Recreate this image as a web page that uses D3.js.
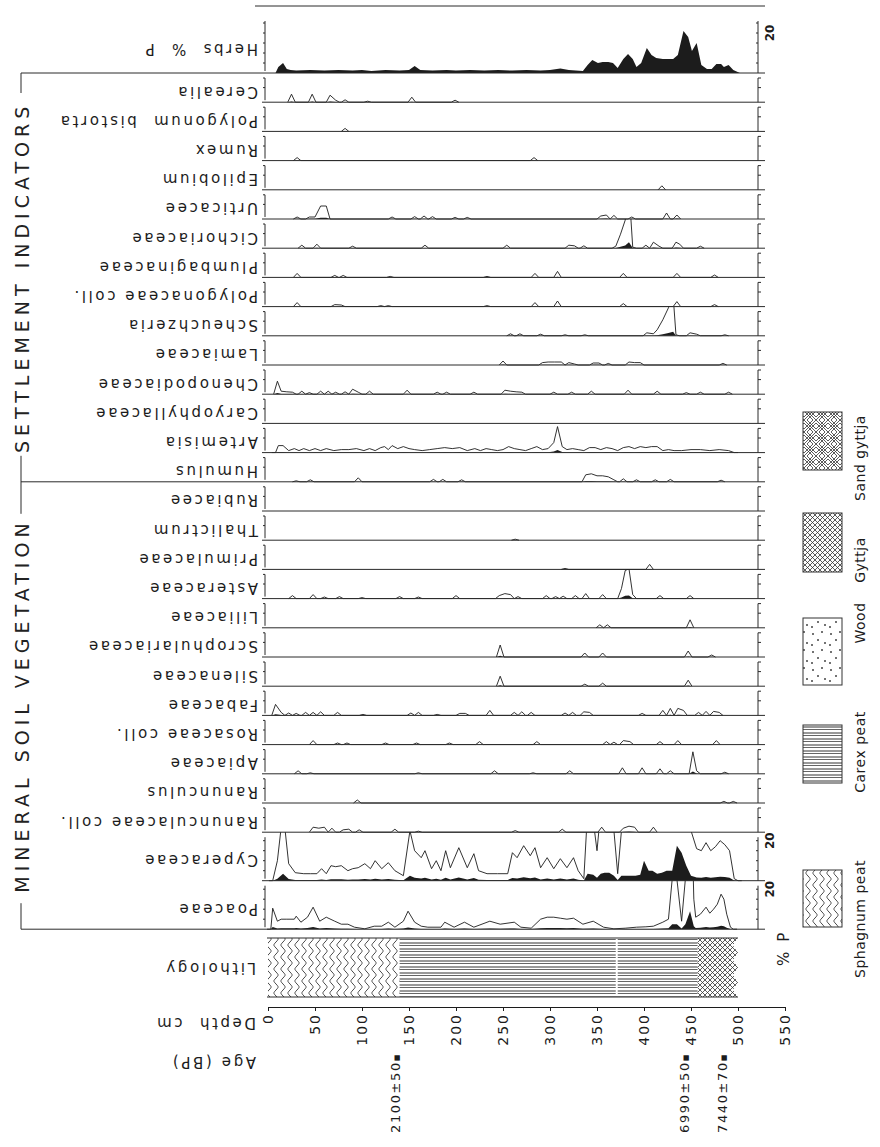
<!DOCTYPE html>
<html lang="en">
<head>
<meta charset="UTF-8">
<title>Pollen diagram — herbs</title>
<script src="https://cdnjs.cloudflare.com/ajax/libs/d3/7.8.5/d3.min.js"></script>
<style>
html,body{margin:0;padding:0;background:#fff}
svg{display:block;font-family:"DejaVu Sans",sans-serif}
.taxon{font-size:15px;letter-spacing:2.6px;white-space:pre;fill:#1c1c1c}
.group{font-size:19px;letter-spacing:5px;fill:#222}
.tick-label{font-size:14px;letter-spacing:2px;fill:#1c1c1c}
.age-label{font-size:13px;letter-spacing:1.6px;fill:#1c1c1c}
.legend-label{font-size:14px;letter-spacing:0.5px;fill:#1c1c1c}
.scale-label{font-size:12px;font-weight:bold;fill:#1c1c1c}
.rule{stroke:#2a2a2a;stroke-width:1;fill:none}
</style>
</head>
<body>
<svg id="chart" width="880" height="1147"></svg>
<script>
// --- data: [depth cm, % of pollen sum] ---
const herbs = [[8,0],[11,3],[16,5],[20,2],[24,1.5],[30,1.2],[45,1.5],[60,1.2],[75,1.5],[90,1.2],[100,1.5],[110,1],[125,1.5],[140,1.2],[150,1.5],[156,3.5],[162,1.5],[175,1.2],[190,1.5],[200,1.2],[215,1.5],[230,1.2],[245,1.5],[260,1.2],[275,1.5],[290,1.2],[300,1.5],[311,2.2],[320,1.5],[335,1],[340,4],[345,6.5],[351,5],[356,5.5],[362,5.5],[367,5],[372,2.5],[378,7],[383,9.5],[388,7],[392,3],[397,5],[403,12.5],[408,9],[413,7.5],[420,7],[426,7],[431,7],[436,9],[442,21],[447,18],[451,11],[456,15],[461,4],[467,2],[472,2],[477,4.5],[482,4.5],[485,3],[490,4],[495,1.5],[502,0]];
const cerealia = [[25,0.4],[47,0.4],[66,0.35],[72,0.1],[82,0.12],[106,0.05],[153,0.25],[199,0.1]];
const polygonumBistorta = [[82,0.15]];
const rumex = [[31,0.15],[283,0.15]];
const epilobium = [[419,0.2]];
const urticaceae = [[31,0.1],[44,0.1],[50,0.1],[56,0.65],[62,0.65],[132,0.1],[156,0.12],[166,0.15],[175,0.12],[199,0.08],[212,0.08],[354,0.15],[360,0.2],[368,0.18],[387,0.1],[424,0.3],[435,0.2]];
const cichoriaceae = [[36,0.15],[52,0.2],[90,0.1],[167,0.15],[254,0.15],[320,0.15],[326,0.12],[336,0.12],[370,0.1],[375,0.7],[380,1.4],[384,3],[388,0.05],[402,0.15],[410,0.3],[416,0.1],[434,0.3],[438,0.2],[460,0.1]];
const plumbaginaceae = [[31,0.2],[71,0.1],[80,0.1],[130,0.05],[233,0.05],[284,0.2],[308,0.3],[378,0.2],[435,0.2],[475,0.12]];
const polygonaceae = [[31,0.2],[71,0.1],[78,0.08],[120,0.05],[128,0.05],[233,0.05],[284,0.2],[308,0.28],[378,0.15],[435,0.25],[475,0.1]];
const scheuchzeria = [[258,0.1],[268,0.1],[290,0.08],[316,0.05],[337,0.05],[403,0.15],[410,0.1],[414,0.3],[420,0.8],[426,1.4],[431,2],[434,0.05],[449,0.15],[456,0.08],[486,0.05]];
const lamiaceae = [[250,0.2],[292,0.12],[298,0.15],[305,0.15],[312,0.15],[320,0.12],[326,0.05],[346,0.1],[352,0.1],[362,0.08],[384,0.15],[390,0.12],[396,0.12],[484,0.08]];
const chenopodiaceae = [[10,0.65],[14,0.15],[20,0.12],[26,0.1],[36,0.15],[44,0.08],[56,0.15],[64,0.15],[72,0.1],[82,0.12],[90,0.25],[96,0.1],[108,0.15],[148,0.2],[180,0.1],[190,0.1],[219,0.1],[252,0.2],[258,0.15],[264,0.12],[270,0.1],[304,0.1],[323,0.1],[344,0.15],[383,0.2],[414,0.15],[445,0.08],[460,0.1],[490,0.1]];
const caryophyllaceae = [];
const artemisia = [[8,0],[11,0.35],[16,0.35],[22,0.1],[28,0.2],[33,0.1],[38,0.2],[44,0.1],[50,0.2],[56,0.1],[62,0.2],[70,0.1],[78,0.15],[86,0.15],[94,0.2],[102,0.1],[108,0.2],[114,0.1],[120,0.25],[124,0.3],[128,0.15],[132,0.35],[138,0.2],[144,0.3],[150,0.2],[156,0.15],[164,0.1],[172,0.15],[180,0.2],[188,0.25],[196,0.2],[204,0.25],[212,0.1],[220,0.2],[226,0.1],[232,0.2],[238,0.15],[244,0.1],[250,0.15],[256,0.3],[262,0.2],[268,0.15],[274,0.1],[280,0.2],[286,0.3],[292,0.15],[298,0.2],[304,0.5],[308,1.3],[313,0.3],[318,0.15],[324,0.2],[330,0.15],[336,0.1],[342,0.25],[348,0.25],[354,0.15],[360,0.25],[366,0.2],[372,0.1],[378,0.25],[384,0.3],[390,0.2],[396,0.3],[402,0.25],[408,0.3],[414,0.3],[420,0.1],[426,0.15],[432,0.1],[440,0.1],[450,0.15],[460,0.15],[470,0.1],[480,0.15],[490,0.1],[496,0]];
const humulus = [[30,0.05],[45,0.1],[96,0.2],[176,0.12],[186,0.12],[206,0.1],[338,0.35],[344,0.4],[350,0.3],[356,0.3],[362,0.25],[368,0.1],[378,0.15],[392,0.1],[412,0.1],[428,0.12],[482,0.08]];
const rubiaceae = [];
const thalictrum = [[263,0.05]];
const primulaceae = [[316,0.05],[406,0.25]];
const asteraceae = [[26,0.15],[48,0.2],[60,0.08],[76,0.1],[100,0.05],[140,0.1],[160,0.08],[200,0.15],[246,0.15],[252,0.25],[258,0.2],[266,0.1],[296,0.15],[306,0.1],[314,0.12],[327,0.15],[338,0.25],[356,0.2],[376,0.5],[380,1.4],[384,1.5],[388,0.2],[417,0.15],[449,0.15]];
const liliaceae = [[353,0.15],[361,0.15],[449,0.4]];
const scrophulariaceae = [[247,0.6],[337,0.2],[356,0.2],[447,0.3],[472,0.1]];
const silenaceae = [[247,0.5],[337,0.1],[356,0.15],[447,0.3]];
const fabaceae = [[8,0.55],[14,0.15],[22,0.12],[30,0.1],[40,0.15],[48,0.15],[56,0.18],[74,0.15],[101,0.05],[152,0.12],[160,0.15],[180,0.05],[204,0.1],[210,0.1],[236,0.25],[262,0.15],[270,0.18],[280,0.15],[316,0.12],[324,0.15],[336,0.18],[342,0.15],[398,0.1],[420,0.25],[428,0.35],[436,0.35],[442,0.25],[458,0.15],[466,0.2],[474,0.2],[480,0.15]];
const rosaceae = [[48,0.2],[74,0.08],[84,0.08],[125,0.08],[158,0.08],[193,0.08],[225,0.15],[286,0.15],[360,0.15],[368,0.12],[378,0.2],[385,0.15],[417,0.15],[436,0.2],[477,0.2]];
const apiaceae = [[32,0.15],[45,0.05],[160,0.05],[241,0.15],[282,0.05],[321,0.15],[377,0.3],[398,0.3],[417,0.25],[428,0.15],[452,1.1],[456,0.15],[486,0.08]];
const ranunculus = [[95,0.15],[485,0.08],[495,0.08]];
const ranunculaceae = [[48,0.25],[54,0.2],[60,0.25],[68,0.2],[80,0.12],[86,0.15],[97,0.12],[135,0.15],[160,0.05],[263,0.08],[313,0.15],[355,0.25],[378,0.2],[384,0.3],[390,0.25],[410,0.25]];
const cyperaceae = [[5,0],[10,1.0],[16,3.5],[22,0.85],[29,0.4],[38,0.35],[45,0.35],[52,0.35],[57,0.6],[62,0.35],[67,0.75],[72,0.7],[78,0.75],[85,0.5],[90,0.6],[96,0.65],[103,0.85],[109,0.6],[114,1.0],[121,0.6],[128,0.9],[135,0.5],[144,0.25],[151,2.5],[156,1.5],[163,1.15],[167,1.5],[174,0.6],[179,1.0],[184,0.5],[189,1.5],[194,0.65],[203,1.65],[212,0.65],[219,1.35],[224,0.5],[233,0.35],[244,0.35],[255,0.35],[260,1.4],[265,1.15],[272,1.75],[279,1.25],[284,1.65],[290,0.65],[297,1.15],[304,0.6],[311,1.1],[318,0.65],[325,1.15],[330,0.5],[336,0.1],[340,3.5],[346,3],[350,1.5],[354,3.5],[358,4],[363,4],[368,2.5],[372,0.35],[376,2.5],[381,2.5],[386,2.5],[391,2.5],[396,3],[400,10],[405,5],[409,5],[414,3.5],[419,4],[424,5],[430,5],[435,17.5],[440,14],[445,7.5],[450,2.5],[456,1.6],[461,1.5],[466,1.9],[471,1.5],[476,1.7],[481,2],[486,1.8],[491,1.5],[496,0.1],[500,0]];
const poaceae = [[3,0],[5,1.05],[10,0.4],[14,0.5],[20,0.5],[28,0.5],[30,0.65],[35,0.35],[42,0.6],[48,1.1],[55,0.4],[62,0.6],[71,0.4],[78,0.25],[85,0.25],[92,0.1],[103,0.02],[113,0.15],[121,0.15],[128,0.35],[135,0.1],[144,0.4],[149,0.9],[156,0.35],[163,0.15],[170,0.1],[184,0.1],[188,0.35],[198,0.1],[209,0.35],[219,0.1],[236,0.4],[247,0.25],[262,0.35],[269,0.1],[280,0.05],[290,0.5],[297,0.6],[304,0.6],[311,0.55],[318,0.5],[325,0.55],[335,0.25],[346,0.4],[357,0.1],[368,0.02],[380,0.05],[392,0.1],[402,0.12],[410,0.15],[420,0.35],[426,0.5],[430,2.5],[435,2.5],[440,0.4],[444,2.5],[449,9],[453,1.5],[455,0.6],[460,0.75],[466,1.1],[470,0.8],[474,1.0],[478,1.25],[482,1.75],[485,1.5],[488,0.75],[492,0.1],[495,0]];

const lithology = [
  {from: 0, to: 140, type: 'sphagnum'},
  {from: 140, to: 457, type: 'carex'},
  {from: 457, to: 500, type: 'gyttja'}
];
const lithoBreaks = [371];
const depthTicks = [0, 50, 100, 150, 200, 250, 300, 350, 400, 450, 500, 550];
const ages = [{depth: 135, label: '2100±50'}, {depth: 443, label: '6990±50'}, {depth: 483, label: '7440±70'}];
const legendItems = [
  {type: 'sphagnum', label: 'Sphagnum peat'},
  {type: 'carex', label: 'Carex peat'},
  {type: 'wood', label: 'Wood'},
  {type: 'gyttja', label: 'Gyttja'},
  {type: 'sand', label: 'Sand gyttja'}
];

const taxa = [
  {name: 'Herbs  %  P', data: herbs, kind: 'sum'},
  {name: 'Cerealia', data: cerealia},
  {name: 'Polygonum  bistorta', data: polygonumBistorta},
  {name: 'Rumex', data: rumex},
  {name: 'Epilobium', data: epilobium},
  {name: 'Urticacee', data: urticaceae},
  {name: 'Cichoriaceae', data: cichoriaceae},
  {name: 'Plumbaginaceae', data: plumbaginaceae},
  {name: 'Polygonaceae coll.', data: polygonaceae},
  {name: 'Scheuchzeria', data: scheuchzeria},
  {name: 'Lamiaceae', data: lamiaceae},
  {name: 'Chenopodiaceae', data: chenopodiaceae},
  {name: 'Caryophyllaceae', data: caryophyllaceae},
  {name: 'Artemisia', data: artemisia, kind: 'curve'},
  {name: 'Humulus', data: humulus},
  {name: 'Rubiacee', data: rubiaceae},
  {name: 'Thalictrum', data: thalictrum},
  {name: 'Primulaceae', data: primulaceae},
  {name: 'Asteraceae', data: asteraceae},
  {name: 'Liliaceae', data: liliaceae},
  {name: 'Scrophulariaceae', data: scrophulariaceae},
  {name: 'Silenaceae', data: silenaceae},
  {name: 'Fabaceae', data: fabaceae},
  {name: 'Rosaceae coll.', data: rosaceae},
  {name: 'Apiaceae', data: apiaceae},
  {name: 'Ranunculus', data: ranunculus},
  {name: 'Ranunculaceae coll.', data: ranunculaceae},
  {name: 'Cyperaceae', data: cyperaceae, kind: 'curve', tall: true},
  {name: 'Poaceae', data: poaceae, kind: 'curve', tall: true}
];

// --- layout ---
const svg = d3.select('#chart');
const ink = '#1c1c1c';
const depth = d3.scaleLinear().domain([0, 550]).range([268, 785]);
const X0 = 262, X1 = 765, AXL = 265, AXR = 758;
const PX_PER_PCT = 2, EXAG = 10, STEP = 4;

let base = 73;
taxa.forEach((t, i) => {
  if (i === 0) { t.h = 57; t.base = base; return; }
  t.h = t.tall ? 48.5 : 29.2;
  base += t.h;
  t.base = base;
});

// patterns
const defs = svg.append('defs');
function pattern(id, w, h) {
  return defs.append('pattern').attr('id', id).attr('patternUnits', 'userSpaceOnUse')
    .attr('width', w).attr('height', h);
}
pattern('pat-sphagnum', 7, 12).append('path')
  .attr('d', 'M3,0 C5.8,3 5.8,3 3,6 C0.2,9 0.2,9 3,12')
  .attr('fill', 'none').attr('stroke', '#333').attr('stroke-width', 0.9);
const pc = pattern('pat-carex', 10, 6);
pc.append('line').attr('x1', 0).attr('x2', 10).attr('y1', 1).attr('y2', 1).attr('stroke', '#333').attr('stroke-width', 1);
pc.append('line').attr('x1', 0).attr('x2', 10).attr('y1', 3.5).attr('y2', 3.5).attr('stroke', '#555').attr('stroke-width', 0.9);
const pg = pattern('pat-gyttja', 5, 5);
pg.append('path').attr('d', 'M0,0 L5,5 M5,0 L0,5').attr('stroke', '#333').attr('stroke-width', 0.8);
const ps = pattern('pat-sand', 12, 12);
ps.append('path').attr('d', 'M0,0 L12,12 M12,0 L0,12 M-1.5,1.5 L10.5,13.5 M1.5,-1.5 L13.5,10.5 M13.5,1.5 L1.5,13.5 M10.5,-1.5 L-1.5,10.5')
  .attr('stroke', '#333').attr('stroke-width', 0.8);
const pw = pattern('pat-wood', 18, 18);
[[3, 4], [12, 2], [8, 10], [15, 13], [2, 15]].forEach(([cx, cy]) =>
  pw.append('circle').attr('cx', cx).attr('cy', cy).attr('r', 1).attr('fill', '#444'));

// top rule
svg.append('line').attr('class', 'rule').attr('x1', 255).attr('x2', X1).attr('y1', 6).attr('y2', 6);

// --- strips ---
function withZeros(pts, continuous) {
  const out = [];
  pts.forEach((p, i) => {
    const prev = pts[i - 1];
    if (!prev) out.push([p[0] - STEP, 0]);
    else if (!continuous && p[0] - prev[0] > 7) {
      out.push([prev[0] + STEP, 0]);
      out.push([p[0] - STEP, 0]);
    }
    out.push(p);
  });
  if (pts.length) out.push([pts[pts.length - 1][0] + STEP, 0]);
  return out;
}

taxa.forEach((t, i) => {
  const g = svg.append('g');
  const y = d3.scaleLinear().domain([0, t.h / PX_PER_PCT]).range([t.base, t.base - t.h]);
  const clipId = 'clip' + i;
  defs.append('clipPath').attr('id', clipId).append('rect')
    .attr('x', X0).attr('y', t.base - t.h).attr('width', X1 - X0).attr('height', t.h + 1);

  const pts = withZeros(t.data, t.kind === 'curve' || t.kind === 'sum');
  const plot = g.append('g').attr('clip-path', `url(#${clipId})`);
  if (pts.length) {
    plot.append('path').datum(pts)
      .attr('d', d3.area().x(d => depth(d[0])).y0(t.base).y1(d => y(d[1])))
      .attr('fill', ink);
    if (t.kind !== 'sum') {
      plot.append('path').datum(pts)
        .attr('d', d3.line().x(d => depth(d[0])).y(d => y(d[1] * EXAG)))
        .attr('fill', 'none').attr('stroke', ink).attr('stroke-width', 0.9);
    }
  }

  // baseline
  g.append('line').attr('class', 'rule').attr('stroke-width', 1.2)
    .attr('x1', X0).attr('x2', X1).attr('y1', t.base).attr('y2', t.base);

  // scale bars left and right
  const top = t.base - t.h + 5;
  g.append('line').attr('class', 'rule').attr('stroke-width', 0.8)
    .attr('x1', AXL).attr('x2', AXL).attr('y1', t.base - 2).attr('y2', top);
  g.append('line').attr('class', 'rule').attr('stroke-width', 0.8)
    .attr('x1', AXR).attr('x2', AXR).attr('y1', t.base).attr('y2', top);
  const tickVals = t.h > 40 ? d3.range(5, t.h / PX_PER_PCT - 2, 5) : [t.h / PX_PER_PCT / 2, (t.h - 5) / PX_PER_PCT];
  tickVals.forEach(v => {
    g.append('line').attr('class', 'rule').attr('stroke-width', 0.8)
      .attr('x1', AXL - 2).attr('x2', AXL).attr('y1', y(v)).attr('y2', y(v));
    g.append('line').attr('class', 'rule').attr('stroke-width', 0.8)
      .attr('x1', AXR).attr('x2', AXR + (t.h > 40 ? -2 : 3)).attr('y1', y(v)).attr('y2', y(v));
  });
  if (t.h > 40) {
    g.append('text').attr('class', 'scale-label')
      .attr('transform', `translate(${AXR + 16},${y(20)}) rotate(-90)`)
      .attr('text-anchor', 'middle').text('20');
  }

  // upside-down taxon label
  g.append('text').attr('class', 'taxon')
    .attr('transform', `translate(258,${t.base - t.h / 2 - 1}) rotate(180)`)
    .text(t.name);
});

// --- group brackets ---
const settleTop = taxa[0].base;
const settleBottom = taxa.find(t => t.name === 'Humulus').base;
const mineralBottom = taxa[taxa.length - 1].base;
const br = svg.append('g');
[settleTop, settleBottom, mineralBottom].forEach(yv =>
  br.append('line').attr('class', 'rule').attr('x1', 21).attr('x2', X0).attr('y1', yv).attr('y2', yv));
br.append('line').attr('class', 'rule').attr('x1', 21).attr('x2', 21).attr('y1', settleTop).attr('y2', settleTop + 20);
br.append('line').attr('class', 'rule').attr('x1', 21).attr('x2', 21).attr('y1', settleBottom - 26).attr('y2', settleBottom + 32);
br.append('line').attr('class', 'rule').attr('x1', 21).attr('x2', 21).attr('y1', mineralBottom - 26).attr('y2', mineralBottom);
br.append('text').attr('class', 'group').attr('text-anchor', 'middle')
  .attr('transform', `translate(29,${(settleTop + settleBottom) / 2}) rotate(-90)`)
  .text('SETTLEMENT INDICATORS');
br.append('text').attr('class', 'group').attr('text-anchor', 'middle')
  .attr('transform', `translate(29,${(settleBottom + mineralBottom) / 2}) rotate(-90)`)
  .text('MINERAL SOIL VEGETATION');

// --- lithology column ---
const LT = 938, LB = 997;
const lg = svg.append('g');
lithology.forEach((l, i) => {
  const x0 = depth(l.from), x1 = depth(l.to);
  let pts = [[x0, LT], [x1, LT]];
  if (i === lithology.length - 1) {
    const teeth = 4, step = (LB - LT) / (teeth * 2);
    d3.range(1, teeth * 2 + 1).forEach(k => pts.push([k % 2 ? x1 - 5 : x1, LT + k * step]));
  } else {
    pts.push([x1, LB]);
  }
  pts.push([x0, LB]);
  lg.append('polygon').attr('points', pts.map(p => p.join(',')).join(' '))
    .attr('fill', `url(#pat-${l.type})`).attr('stroke', 'none');
});
lithoBreaks.forEach(d => lg.append('line').attr('x1', depth(d)).attr('x2', depth(d))
  .attr('y1', LT + 1).attr('y2', LB - 1).attr('stroke', '#fff').attr('stroke-width', 2));
lg.append('line').attr('class', 'rule').attr('x1', depth(0) - 1).attr('x2', depth(500)).attr('y1', LT).attr('y2', LT);
lg.append('line').attr('class', 'rule').attr('x1', depth(0) - 1).attr('x2', depth(500)).attr('y1', LB).attr('y2', LB);

// --- depth axis ---
const axisY = 1007;
const ax = svg.append('g').attr('transform', `translate(0,${axisY})`)
  .call(d3.axisBottom(depth).tickValues(depthTicks).tickSize(4).tickSizeOuter(0).tickFormat(''));
ax.select('.domain').attr('stroke', ink);
ax.selectAll('.tick line').attr('stroke', ink);
svg.append('g').selectAll('text').data(depthTicks).join('text')
  .attr('class', 'tick-label').attr('text-anchor', 'end')
  .attr('transform', d => `translate(${depth(d) + 5},${axisY + 6}) rotate(-90)`)
  .text(d => d);
const ageText = svg.append('g').selectAll('text').data(ages).join('text')
  .attr('class', 'age-label').attr('text-anchor', 'end')
  .attr('transform', d => `translate(${depth(d.depth) + 5},1053) rotate(-90)`);
ageText.append('tspan').text(d => d.label);
ageText.append('tspan').attr('font-size', '7px').attr('dy', '-1').text('■');

// left-side titles (upside-down)
[['Lithology', 963], ['Depth  cm', 1018], ['Age (BP)', 1057]].forEach(([txt, yv]) =>
  svg.append('text').attr('class', 'taxon')
    .attr('transform', `translate(256,${yv}) rotate(180)`)
    .text(txt));

svg.append('text').attr('class', 'taxon').attr('text-anchor', 'middle')
  .attr('transform', `translate(789,948) rotate(-90)`).text('% P');

// --- legend ---
const legendBoxes = [[870, 927], [725, 783], [618, 685], [513, 572], [412, 470]];
const legendText = [919, 752, 623, 560, 458];
const lgd = svg.append('g');
legendItems.forEach((item, i) => {
  const [y0, y1] = legendBoxes[i];
  lgd.append('rect').attr('x', 803).attr('y', y0).attr('width', 39).attr('height', y1 - y0)
    .attr('fill', `url(#pat-${item.type})`).attr('stroke', '#333').attr('stroke-width', 1);
  lgd.append('text').attr('class', 'legend-label').attr('text-anchor', 'middle')
    .attr('transform', `translate(865,${legendText[i]}) rotate(-90)`).text(item.label);
});
</script>
</body>
</html>
